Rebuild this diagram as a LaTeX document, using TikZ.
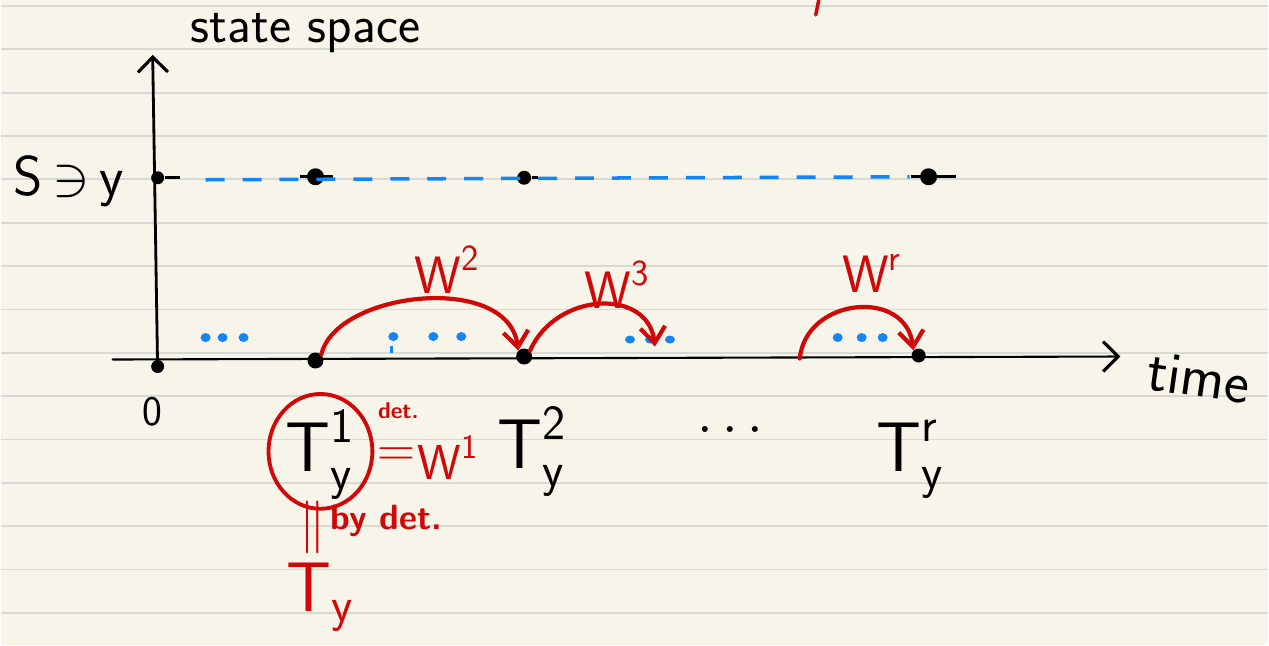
\RequirePackage{fix-cm}
\documentclass[tikz,border=0pt]{standalone}
\usepackage{amsmath,amssymb}
\usetikzlibrary{arrows.meta, positioning, calc}
\definecolor{paper}{HTML}{F7F5EA}
\definecolor{ruling}{HTML}{D8D8D4}
\definecolor{inkred}{HTML}{D00808}
\definecolor{inkblue}{HTML}{1684F5}

\begin{document}
\begin{tikzpicture}[x=0.02cm, y=-0.02cm,
    pt/.style={circle, fill=black, inner sep=0pt, minimum size=0.34cm},
    tick/.style={black, line width=1.6pt},
    axis/.style={-{Straight Barb[length=0.3cm, width=0.6cm, line width=1.8pt]}, black, line width=1.6pt, line cap=round},
    jump/.style={-{Straight Barb[length=0.32cm, width=0.5cm]}, inkred, line width=2.4pt, line cap=round},
    bdot/.style={inkblue},
    hand/.style={font=\sffamily\fontsize{30}{34}\selectfont},
    big/.style={inner sep=0pt, font=\sffamily\fontsize{40}{46}\selectfont},
    wlbl/.style={text=inkred, font=\sffamily\fontsize{30}{34}\selectfont}]

  % paper with rulings
  \fill[paper] (0,0) rectangle (1269,646);
  \foreach \k in {0,...,14}
    \draw[ruling, line width=1pt] (0,{6+43.4*\k}) -- (1269,{6+43.4*\k});
  \useasboundingbox (0,0) rectangle (1269,646);

  % stray red stroke at the top
  \draw[inkred, line width=2pt, line cap=round] (819,0) -- (816,15);

  % axes
  \coordinate (ybot) at (157,372);
  \coordinate (ytop) at (152,55);
  \coordinate (xbeg) at (112,360);
  \coordinate (xend) at (1121,357);
  \draw[axis] (ybot) -- (ytop);
  \draw[axis, line width=1.2pt] (xbeg) -- (xend);
  \node[hand] (ss) at (305,33) {state space};
  \node[hand, inner sep=0pt, font=\sffamily\fontsize{34}{38}\selectfont] (time) at (1200,378) [rotate=-8] {time};
  \node[font=\sffamily\fontsize{24}{28}\selectfont] (zero) at (152,412) {0};
  \node[font=\sffamily\fontsize{32}{36}\selectfont] (S) at (68,182) {$\text{S}\,{\ni}\,\text{y}$};

  % level y in the state space
  \node[pt, minimum size=0.26cm] (s0) at (157,178) {};
  \node[pt] (s1) at (315,177) {};
  \node[pt, minimum size=0.28cm] (s2) at (524,178) {};
  \node[pt] (sr) at (929,177) {};
  \draw[tick] (s0) -- ++(22,0);
  \draw[tick] ($(s1)+(-15,0)$) -- ($(s1)+(18,0)$);
  \draw[tick] (s2) -- ++(14,0);
  \draw[tick] ($(sr)+(-18,0)$) -- ($(sr)+(27,0)$);
  \draw[inkblue, line width=2pt, dash pattern=on 0.38cm off 0.36cm] (205,180) -- (910,177);

  % hitting times on the time axis
  \node[pt, minimum size=0.26cm] (t0) at (157,367) {};
  \node[pt, minimum size=0.32cm] (t1) at (315,361) {};
  \node[pt, minimum size=0.32cm] (t2) at (524,357) {};
  \node[pt, minimum size=0.28cm] (tr) at (919,356) {};
  \coordinate (w3end) at (655,347);
  \coordinate (wrbeg) at (800,359);

  % blue dots between the hits
  \foreach \x in {205,222,243} \fill[bdot] (\x,338) ellipse [x radius=0.1cm, y radius=0.09cm];
  \foreach \x in {393,433,461} \fill[bdot] (\x,337) ellipse [x radius=0.1cm, y radius=0.09cm];
  \draw[inkblue, line width=1.4pt] (391,346) -- (391,353);
  \foreach \x in {630,650,670} \fill[bdot] (\x,340) ellipse [x radius=0.1cm, y radius=0.08cm];
  \foreach \x in {838,862,883} \fill[bdot] (\x,338) ellipse [x radius=0.1cm, y radius=0.09cm];

  % red excursions
  \draw[jump] (t1.north east) .. controls (335,292) and (508,272) .. (t2.north west);
  \draw[jump] (t2.north east) .. controls (556,292) and (648,288) .. (w3end);
  \draw[jump] (wrbeg) .. controls (806,298) and (906,288) .. (tr.north west);
  \node[wlbl] (w2) at (447,270) {$\text{W}^{\text{2}}$};
  \node[wlbl] (w3) at (617,285) {$\text{W}^{\text{3}}$};
  \node[wlbl] (wr) at (872,274) {$\text{W}^{\text{r}}$};

  % labels below the axis
  \node[big] (T1) at (320,455) {$\text{T}^{\text{1}}_{\text{y}}$};
  \draw[inkred, line width=2.2pt] (320,452) ellipse [x radius=1.04cm, y radius=1.15cm];
  \node[inner sep=0pt, text=inkred, font=\sffamily\bfseries\fontsize{13}{14}\selectfont] (det) at (398,411) {det.};
  \node[inner sep=0pt, text=inkred, font=\fontsize{30}{34}\selectfont] (eq) at (396,458) {$=$};
  \node[inner sep=0pt, text=inkred, font=\sffamily\fontsize{28}{32}\selectfont, right=0.04cm of eq] (W1) {$\text{W}^{\text{1}}$};
  \node[big] (T2) at (532,452) {$\text{T}^{\text{2}}_{\text{y}}$};
  \node[inner sep=0pt, font=\fontsize{32}{36}\selectfont] (dots) at (735,432) {$\cdots$};
  \node[big] (Tr) at (910,460) {$\text{T}^{\text{r}}_{\text{y}}$};
  \node[inner sep=0pt, text=inkred, font=\fontsize{30}{36}\selectfont] (par) at (312,528) {$\Vert$};
  \node[inner sep=0pt, text=inkred, font=\sffamily\bfseries\fontsize{20}{22}\selectfont] (bydet) at (386,522) {by det.};
  \node[big, text=inkred] (Ty) at (320,598) {$\text{T}_{\text{y}}$};
\end{tikzpicture}
\end{document}
